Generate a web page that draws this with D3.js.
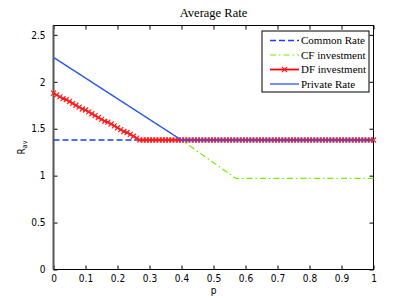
<!DOCTYPE html>
<html>
<head>
<meta charset="utf-8">
<script src="https://cdn.jsdelivr.net/npm/d3@7"></script>
<style>
  body { margin: 0; background: #fff; }
  text { fill: #000; }
</style>
</head>
<body>
<div id="chart"></div>
<script>
// data
var xTicks = [0, 0.1, 0.2, 0.3, 0.4, 0.5, 0.6, 0.7, 0.8, 0.9, 1];
var yTicks = [0, 0.5, 1, 1.5, 2, 2.5];
var seriesNames = ["Common Rate", "CF investment", "DF investment", "Private Rate"];

var commonRate = [[0, 1.38], [1, 1.38]];
// CF runs under the private rate line until p = 0.4
var cfInvestment = [[0, 2.26], [0.4, 1.38], [0.57, 0.97], [1, 0.97]];
var privateRate = [[0, 2.26], [0.4, 1.38], [1, 1.38]];

// DF investment sampled at p = 0, 0.01, ... 1
var dfP = [0, 0.01, 0.02, 0.03, 0.04, 0.05, 0.06, 0.07, 0.08, 0.09,
  0.1, 0.11, 0.12, 0.13, 0.14, 0.15, 0.16, 0.17, 0.18, 0.19,
  0.2, 0.21, 0.22, 0.23, 0.24, 0.25, 0.26, 0.27, 0.28, 0.29,
  0.3, 0.31, 0.32, 0.33, 0.34, 0.35, 0.36, 0.37, 0.38, 0.39,
  0.4, 0.41, 0.42, 0.43, 0.44, 0.45, 0.46, 0.47, 0.48, 0.49,
  0.5, 0.51, 0.52, 0.53, 0.54, 0.55, 0.56, 0.57, 0.58, 0.59,
  0.6, 0.61, 0.62, 0.63, 0.64, 0.65, 0.66, 0.67, 0.68, 0.69,
  0.7, 0.71, 0.72, 0.73, 0.74, 0.75, 0.76, 0.77, 0.78, 0.79,
  0.8, 0.81, 0.82, 0.83, 0.84, 0.85, 0.86, 0.87, 0.88, 0.89,
  0.9, 0.91, 0.92, 0.93, 0.94, 0.95, 0.96, 0.97, 0.98, 0.99, 1];
var dfValues = [1.88, 1.86, 1.84, 1.82, 1.81, 1.79, 1.77, 1.75, 1.73, 1.71,
  1.70, 1.68, 1.66, 1.64, 1.62, 1.60, 1.58, 1.57, 1.55, 1.53,
  1.51, 1.49, 1.47, 1.46, 1.44, 1.42, 1.40, 1.38, 1.38, 1.38,
  1.38, 1.38, 1.38, 1.38, 1.38, 1.38, 1.38, 1.38, 1.38, 1.38,
  1.38, 1.38, 1.38, 1.38, 1.38, 1.38, 1.38, 1.38, 1.38, 1.38,
  1.38, 1.38, 1.38, 1.38, 1.38, 1.38, 1.38, 1.38, 1.38, 1.38,
  1.38, 1.38, 1.38, 1.38, 1.38, 1.38, 1.38, 1.38, 1.38, 1.38,
  1.38, 1.38, 1.38, 1.38, 1.38, 1.38, 1.38, 1.38, 1.38, 1.38,
  1.38, 1.38, 1.38, 1.38, 1.38, 1.38, 1.38, 1.38, 1.38, 1.38,
  1.38, 1.38, 1.38, 1.38, 1.38, 1.38, 1.38, 1.38, 1.38, 1.38, 1.38];
var dfInvestment = dfP.map(function(p, i) { return [p, dfValues[i]]; });

//set up svg
var width = 415, height = 303;
var mLeft = 53.5, mRight = 373.5, mTop = 25.5, mBottom = 269.5;

var svg = d3.select("#chart").append("svg")
  .attr("width", width).attr("height", height);

var x = d3.scaleLinear().domain([0, 1]).range([mLeft, mRight]);
var y = d3.scaleLinear().domain([0, 2.6]).range([mBottom, mTop]);

var tickFont = "'Liberation Sans Narrow', 'DejaVu Sans Condensed', sans-serif";
var serifFont = "'Liberation Serif', 'DejaVu Serif', serif";

// box
svg.append("rect")
  .attr("x", mLeft).attr("y", mTop)
  .attr("width", mRight - mLeft).attr("height", mBottom - mTop)
  .attr("fill", "none").attr("stroke", "#000").attr("stroke-width", 1);

// ticks (inward, on all four sides)
var xAxis = svg.append("g").attr("transform", "translate(0," + mBottom + ")")
  .call(d3.axisBottom(x).tickValues(xTicks).tickSizeInner(-4).tickSizeOuter(0).tickPadding(3)
    .tickFormat(d3.format("")));
var xAxisTop = svg.append("g").attr("transform", "translate(0," + mTop + ")")
  .call(d3.axisTop(x).tickValues(xTicks).tickSizeInner(-4).tickSizeOuter(0).tickFormat(""));
var yAxis = svg.append("g").attr("transform", "translate(" + mLeft + ",0)")
  .call(d3.axisLeft(y).tickValues(yTicks).tickSizeInner(-4).tickSizeOuter(0).tickPadding(8)
    .tickFormat(d3.format("")));
var yAxisRight = svg.append("g").attr("transform", "translate(" + mRight + ",0)")
  .call(d3.axisRight(y).tickValues(yTicks).tickSizeInner(-4).tickSizeOuter(0).tickFormat(""));

[xAxis, xAxisTop, yAxis, yAxisRight].forEach(function(a) {
  a.select(".domain").remove();
  a.selectAll("line").attr("stroke", "#000");
  a.selectAll("text").attr("font-family", tickFont).attr("font-size", "10px").attr("fill", "#000");
});
xAxis.selectAll("text").attr("dy", "0.9em");

// thicker grey left spine like the picture
svg.append("line")
  .attr("x1", mLeft).attr("x2", mLeft).attr("y1", mTop).attr("y2", mBottom)
  .attr("stroke", "#555").attr("stroke-width", 2);

var line = d3.line().x(function(d) { return x(d[0]); }).y(function(d) { return y(d[1]); });

var styles = [
  { data: commonRate, color: "#1a3cff", dash: "6,3", width: 1.3 },
  { data: cfInvestment, color: "#77ee00", dash: "6,3,1.5,3", width: 1.2 },
  { data: dfInvestment, color: "#ff0000", dash: null, width: 1.8, marker: true },
  { data: privateRate, color: "#2a55ff", dash: null, width: 1.3 }
];

var plot = svg.append("g");

styles.forEach(function(s) {
  plot.append("path")
    .datum(s.data)
    .attr("d", line)
    .attr("fill", "none")
    .attr("stroke", s.color)
    .attr("stroke-width", s.width)
    .attr("stroke-dasharray", s.dash);
  if (s.marker) {
    plot.selectAll(null).data(s.data).enter().append("path")
      .attr("transform", function(d) { return "translate(" + x(d[0]) + "," + y(d[1]) + ")"; })
      .attr("d", "M-2.5,-2.5L2.5,2.5M-2.5,2.5L2.5,-2.5")
      .attr("stroke", "#ff2020")
      .attr("stroke-width", 1.2);
  }
});

// title and labels
svg.append("text")
  .attr("x", (mLeft + mRight) / 2).attr("y", 17)
  .attr("text-anchor", "middle")
  .attr("font-family", serifFont).attr("font-size", "12.5px")
  .text("Average Rate");

svg.append("text")
  .attr("x", (mLeft + mRight) / 2).attr("y", 294)
  .attr("text-anchor", "middle")
  .attr("font-family", tickFont).attr("font-size", "10px")
  .text("p");

var yl = svg.append("text")
  .attr("transform", "translate(25," + ((mTop + mBottom) / 2) + ") rotate(-90)")
  .attr("text-anchor", "middle")
  .attr("font-family", tickFont).attr("font-size", "10px");
yl.append("tspan").text("R");
yl.append("tspan").attr("font-size", "7px").attr("dy", "2").text("av");

// legend
var lg = svg.append("g").attr("transform", "translate(262,31)");
lg.append("rect")
  .attr("x", 0).attr("y", 0).attr("width", 107).attr("height", 61)
  .attr("fill", "#fff").attr("stroke", "#000").attr("stroke-width", 1);

styles.forEach(function(s, i) {
  var ry = 9.5 + i * 14.5;
  lg.append("line")
    .attr("x1", 8).attr("x2", 37).attr("y1", ry).attr("y2", ry)
    .attr("stroke", s.color).attr("stroke-width", s.width)
    .attr("stroke-dasharray", s.dash);
  if (s.marker) {
    lg.append("path")
      .attr("transform", "translate(22.5," + ry + ")")
      .attr("d", "M-2.5,-2.5L2.5,2.5M-2.5,2.5L2.5,-2.5")
      .attr("stroke", "#ff2020").attr("stroke-width", 1.2);
  }
  lg.append("text")
    .attr("x", 39).attr("y", ry).attr("dy", "0.35em")
    .attr("font-family", serifFont).attr("font-size", "11px")
    .text(seriesNames[i]);
});
</script>
</body>
</html>
